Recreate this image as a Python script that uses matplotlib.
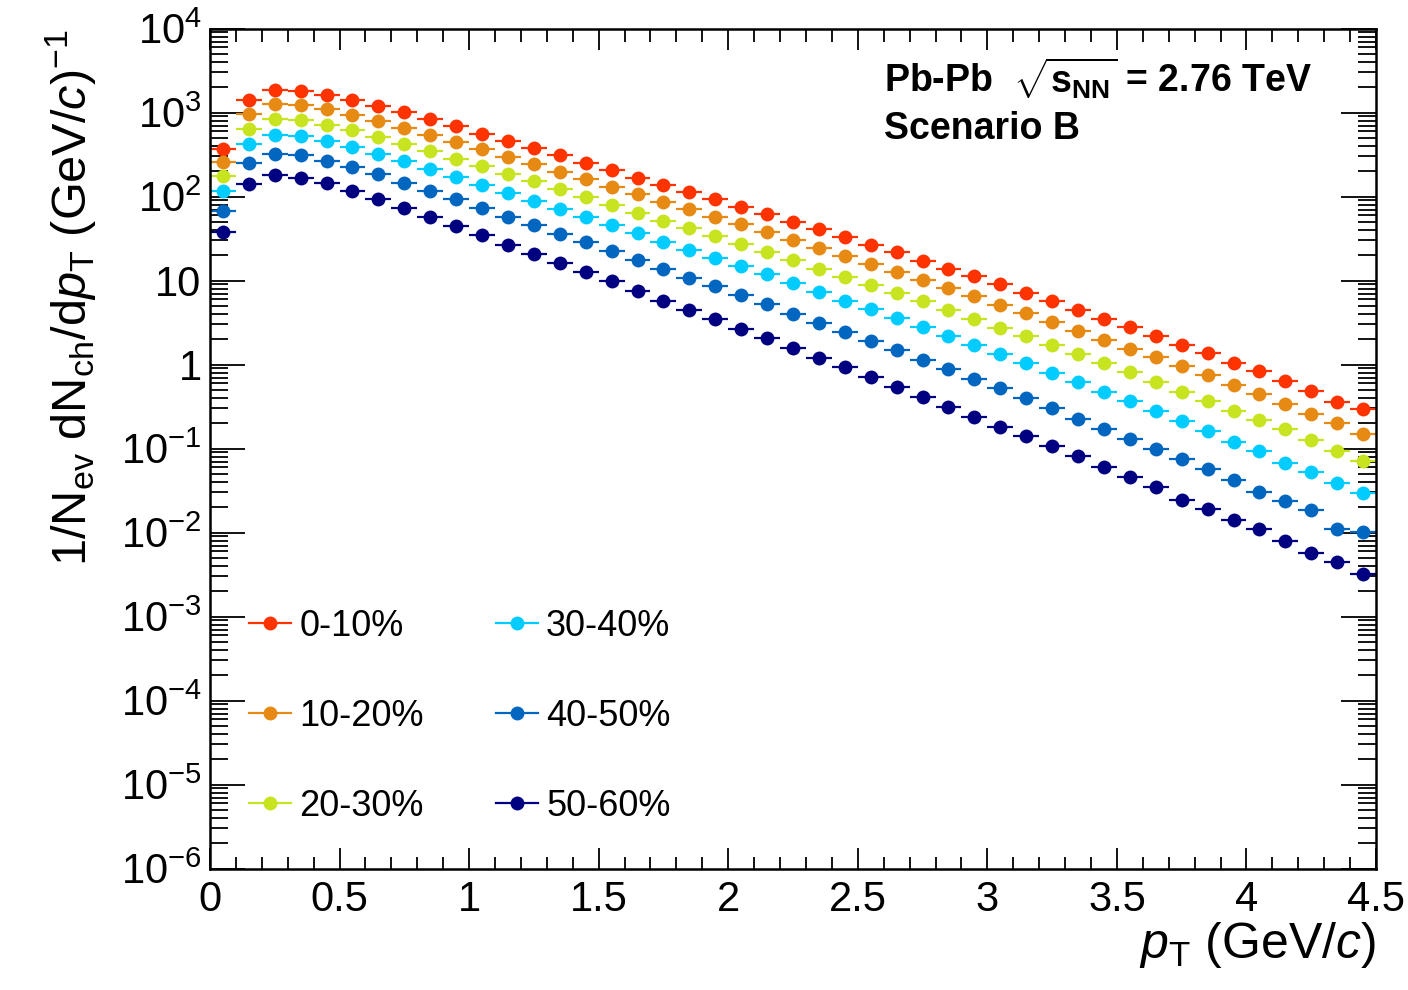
import numpy as np
import matplotlib
matplotlib.use('Agg')
import matplotlib.pyplot as plt
from matplotlib.ticker import MultipleLocator, LogLocator, FuncFormatter, NullFormatter
from matplotlib.lines import Line2D

plt.rcParams['font.family'] = ['Liberation Sans', 'DejaVu Sans']
plt.rcParams['mathtext.fontset'] = 'custom'
plt.rcParams['mathtext.rm'] = 'Liberation Sans'
plt.rcParams['mathtext.it'] = 'Liberation Sans:italic'
plt.rcParams['mathtext.bf'] = 'Liberation Sans:bold'

# bin centres in pT (GeV/c)
pt = [0.05, 0.15, 0.25, 0.35, 0.45, 0.55, 0.65, 0.75, 0.85, 0.95,
      1.05, 1.15, 1.25, 1.35, 1.45, 1.55, 1.65, 1.75, 1.85, 1.95,
      2.05, 2.15, 2.25, 2.35, 2.45, 2.55, 2.65, 2.75, 2.85, 2.95,
      3.05, 3.15, 3.25, 3.35, 3.45, 3.55, 3.65, 3.75, 3.85, 3.95,
      4.05, 4.15, 4.25, 4.35, 4.45]
pt_halfwidth = 0.05

cent_0_10 = [370, 1422, 1871, 1820, 1630, 1422, 1195, 1002, 827, 690,
             558, 461, 377, 308, 252, 208, 168, 137, 112, 92.7,
             75.7, 62.0, 50.2, 40.7, 33.0, 26.7, 21.6, 17.2, 13.9, 11.2,
             8.98, 7.13, 5.68, 4.44, 3.53, 2.80, 2.21, 1.73, 1.36, 1.05,
             0.845, 0.635, 0.479, 0.361, 0.298]
cent_10_20 = [256, 968, 1250, 1216, 1109, 942, 798, 659, 543, 445,
              363, 297, 243, 198, 161, 131, 106, 86.2, 70.5, 57.5,
              46.6, 38.1, 30.3, 24.6, 19.7, 15.8, 12.7, 10.2, 8.11, 6.46,
              5.13, 4.05, 3.25, 2.51, 1.98, 1.55, 1.22, 0.970, 0.743, 0.565,
              0.450, 0.341, 0.256, 0.204, 0.148]
cent_20_30 = [175, 641, 827, 820, 714, 612, 514, 421, 344, 281,
              230, 186, 151, 122, 98.9, 79.4, 64.3, 51.6, 41.9, 33.9,
              27.2, 21.8, 17.5, 13.9, 11.1, 8.81, 7.08, 5.68, 4.44, 3.53,
              2.73, 2.17, 1.71, 1.32, 1.03, 0.807, 0.618, 0.470, 0.366, 0.282,
              0.216, 0.169, 0.126, 0.0946, 0.0705]
cent_30_40 = [115, 425, 543, 524, 461, 391, 325, 264, 213, 171,
              139, 111, 89.4, 71.8, 57.1, 45.8, 36.5, 29.0, 23.2, 18.5,
              14.9, 11.8, 9.31, 7.33, 5.72, 4.56, 3.56, 2.80, 2.19, 1.71,
              1.33, 1.03, 0.800, 0.618, 0.475, 0.364, 0.279, 0.212, 0.161, 0.120,
              0.0929, 0.0681, 0.0527, 0.0393, 0.0296]
cent_40_50 = [68, 252, 322, 313, 268, 225, 185, 146, 117, 92.9,
              73.8, 57.5, 45.5, 36.1, 28.5, 22.2, 17.5, 13.7, 10.8, 8.49,
              6.64, 5.23, 4.01, 3.13, 2.44, 1.89, 1.48, 1.13, 0.877, 0.679,
              0.520, 0.395, 0.300, 0.226, 0.170, 0.129, 0.0982, 0.0760, 0.0566, 0.0423,
              0.0304, 0.0239, 0.0185, 0.0111, 0.0102]
cent_50_60 = [37.5, 141, 178, 167, 144, 117, 93.6, 72.4, 56.6, 44.2,
              34.8, 26.7, 20.8, 16.1, 12.6, 9.75, 7.48, 5.78, 4.47, 3.46,
              2.68, 2.05, 1.57, 1.20, 0.934, 0.710, 0.539, 0.410, 0.311, 0.237,
              0.182, 0.140, 0.106, 0.0809, 0.0598, 0.0455, 0.0349, 0.0246, 0.0192, 0.0142,
              0.0110, 0.00783, 0.00574, 0.00449, 0.00325]

labels = ['0-10%', '10-20%', '20-30%', '30-40%', '40-50%', '50-60%']
colors = ['#ff3300', '#e68a14', '#c8e420', '#00ccff', '#0066c0', '#000080']
series = [cent_0_10, cent_10_20, cent_20_30, cent_30_40, cent_40_50, cent_50_60]

fig = plt.figure(figsize=(14.08, 9.9), dpi=100)
ax = fig.add_axes([0.1491, 0.1227, 0.9773 - 0.1491, 0.9712 - 0.1227])

for vals, col in zip(series, colors):
    ax.errorbar(pt, vals, xerr=pt_halfwidth, fmt='o', color=col, ms=10,
                elinewidth=1.6, capsize=0, mew=0)

ax.set_yscale('log')
ax.set_xlim(0, 4.5)
ax.set_ylim(1e-6, 1e4)

ax.xaxis.set_major_locator(MultipleLocator(0.5))
ax.xaxis.set_minor_locator(MultipleLocator(0.1))
ax.xaxis.set_major_formatter(FuncFormatter(lambda v, p: '%g' % v))
ax.yaxis.set_major_locator(LogLocator(base=10, numticks=20))
ax.yaxis.set_minor_locator(LogLocator(base=10, subs=np.arange(2, 10), numticks=20))
ax.yaxis.set_minor_formatter(NullFormatter())


def ylab(v, p):
    e = int(round(np.log10(v)))
    if e == 0:
        return '1'
    if e == 1:
        return '10'
    return '$10^{%d}$' % e


ax.yaxis.set_major_formatter(FuncFormatter(ylab))

ax.tick_params(which='both', direction='in', top=True, right=True, width=1.3,
               labelsize=30)
ax.tick_params(axis='x', which='major', length=15, pad=8)
ax.tick_params(axis='x', which='minor', length=9)
ax.tick_params(axis='y', which='major', length=25, pad=6)
ax.tick_params(axis='y', which='minor', length=13)
for s in ax.spines.values():
    s.set_linewidth(1.8)

ax.set_xlabel(r'$p_{\mathrm{T}}$ (GeV/$c$)', fontsize=36, loc='right', labelpad=0)
ax.set_ylabel(r'1/N$_{\mathrm{ev}}$ dN$_{\mathrm{ch}}$/d$p_{\mathrm{T}}$ (GeV/$c$)$^{-1}$',
              fontsize=35, loc='top')
ax.yaxis.set_label_coords(-0.095, 1.0)

ax.text(0.578, 0.94, r'Pb-Pb  $\sqrt{\mathbf{s}_{\mathbf{NN}}}$ = 2.76 TeV',
        transform=ax.transAxes, fontsize=27, fontweight='bold', va='center')
ax.text(0.578, 0.88, 'Scenario B', transform=ax.transAxes, fontsize=27,
        fontweight='bold', va='center')

handles = [Line2D([], [], color=c, marker='o', ms=10, lw=1.6, mew=0) for c in colors]
ax.legend(handles, labels, ncol=2, loc='upper left', bbox_to_anchor=(0.018, 0.3305),
          frameon=False, fontsize=26, handlelength=1.17, handletextpad=0.22,
          labelspacing=1.52, columnspacing=2.0, borderpad=0)

fig.savefig('out.png', dpi=100)
